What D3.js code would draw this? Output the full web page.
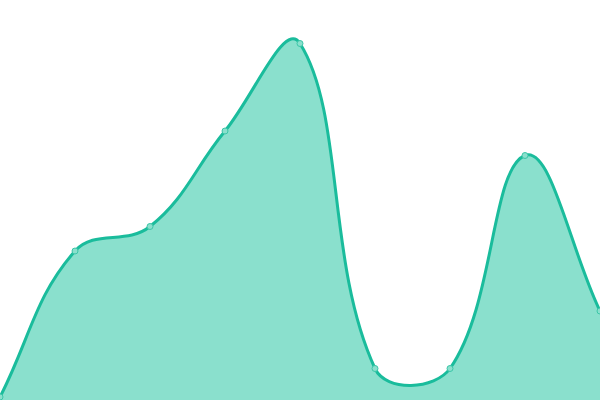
<!DOCTYPE html>
<html>
<head>
<meta charset="utf-8">
<script src="https://cdn.jsdelivr.net/npm/d3@7"></script>
<style>
  html, body { margin: 0; padding: 0; background: #fff; }
  svg { display: block; }
</style>
</head>
<body>
<div id="chart"></div>
<script>
// Data
const categories = [0, 1, 2, 3, 4, 5, 6, 7, 8];
const values = [3, 149, 173.5, 269, 356.5, 31.5, 31.5, 244.5, 89];

const width = 600;
const height = 400;

const data = categories.map((c, i) => ({ c: c, v: values[i] }));

// Spline curve with distance-weighted control points (tension 0.4),
// control points kept inside the drawing area
function splineCurve(tension) {
    return function (context) {
        let pts = [];
        let inArea = false;
        let first = true;
        return {
            areaStart() { inArea = true; first = true; },
            areaEnd() { inArea = false; context.closePath(); },
            lineStart() { pts = []; },
            point(x, y) { pts.push([+x, +y]); },
            lineEnd() {
                const n = pts.length;
                if (!n) return;
                const clampX = v => Math.max(0, Math.min(width, v));
                const clampY = v => Math.max(0, Math.min(height, v));
                const cps = pts.map((p, i) => {
                    const prev = pts[i - 1] || p;
                    const next = pts[i + 1] || p;
                    const d01 = Math.hypot(p[0] - prev[0], p[1] - prev[1]);
                    const d12 = Math.hypot(next[0] - p[0], next[1] - p[1]);
                    const sum = d01 + d12;
                    const fa = sum ? tension * d01 / sum : 0;
                    const fb = sum ? tension * d12 / sum : 0;
                    return {
                        prev: [clampX(p[0] - fa * (next[0] - prev[0])), clampY(p[1] - fa * (next[1] - prev[1]))],
                        next: [clampX(p[0] + fb * (next[0] - prev[0])), clampY(p[1] + fb * (next[1] - prev[1]))]
                    };
                });
                if (inArea && !first) context.lineTo(pts[0][0], pts[0][1]);
                else context.moveTo(pts[0][0], pts[0][1]);
                first = false;
                for (let i = 1; i < n; i++) {
                    const a = cps[i - 1].next, b = cps[i].prev;
                    context.bezierCurveTo(a[0], a[1], b[0], b[1], pts[i][0], pts[i][1]);
                }
            }
        };
    };
}

const svg = d3.select("#chart")
    .append("svg")
    .attr("width", width)
    .attr("height", height);

// Scales
const x = d3.scaleLinear()
    .domain(d3.extent(categories))
    .range([0, width]);

const y = d3.scaleLinear()
    .domain([0, 400])
    .range([height, 0]);

const curve = splineCurve(0.4);

// Filled area
svg.append("path")
    .datum(data)
    .attr("fill", "#8ae0cd")
    .attr("d", d3.area()
        .x(d => x(d.c))
        .y0(y(0))
        .y1(d => y(d.v))
        .curve(curve));

// Line on top
svg.append("path")
    .datum(data)
    .attr("fill", "none")
    .attr("stroke", "#1abc9c")
    .attr("stroke-width", 3)
    .attr("d", d3.line()
        .x(d => x(d.c))
        .y(d => y(d.v))
        .curve(curve));

// Point markers
svg.selectAll(".dot")
    .data(data)
    .enter()
    .append("circle")
    .attr("class", "dot")
    .attr("cx", d => x(d.c))
    .attr("cy", d => y(d.v))
    .attr("r", 3)
    .attr("fill", "#8ae0cd")
    .attr("stroke", "#3cc6a8")
    .attr("stroke-width", 1);
</script>
</body>
</html>
